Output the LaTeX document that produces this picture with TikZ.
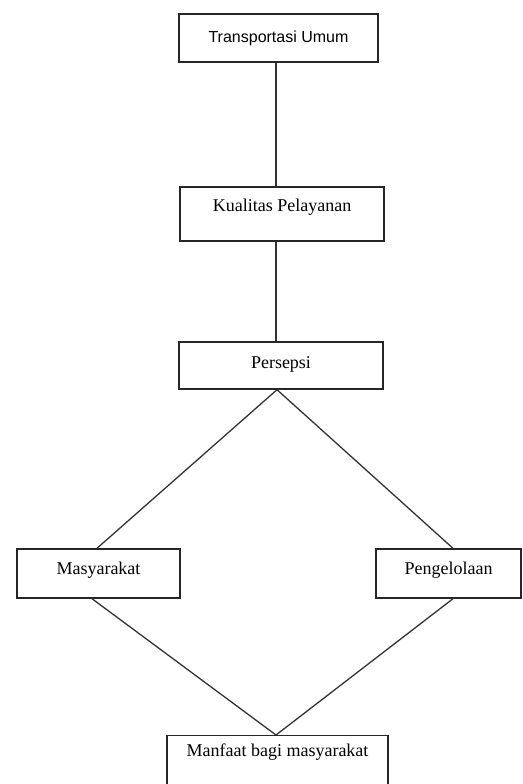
\documentclass[tikz,border=0pt]{standalone}
\usepackage{fontspec}
\setmainfont{Liberation Serif}
\newfontfamily\arialfont{Liberation Sans}
\begin{document}
\begin{tikzpicture}[x=1pt,y=-1pt,
  box/.style={draw=black!85,line width=1.4pt,rectangle,inner sep=0pt,font=\fontsize{18}{20}\selectfont},
  conn/.style={draw=black!80,line width=1.3pt}]
\useasboundingbox (0,0) rectangle (522,784);
\clip (0,0) rectangle (522,784);
\fill[white] (0,0) rectangle (522,784);
\node[box,minimum width=199pt,minimum height=48pt,font=\arialfont\fontsize{16}{18}\selectfont] (t) at (278.5,38) {\raisebox{2pt}{Transportasi Umum}};
\node[box,minimum width=204pt,minimum height=54pt] (k) at (282,214) {\raisebox{18pt}{Kualitas Pelayanan}};
\node[box,minimum width=204pt,minimum height=47pt] (p) at (281,365.5) {\raisebox{6pt}{Persepsi}};
\node[box,minimum width=163pt,minimum height=49pt] (m) at (98.5,573.5) {\raisebox{11pt}{Masyarakat}};
\node[box,minimum width=145pt,minimum height=49pt] (g) at (448.5,573.5) {\raisebox{11pt}{Pengelolaan}};
\node[box,minimum width=221pt,minimum height=66pt,anchor=north] (f) at (277.5,735) {\raisebox{38pt}{Manfaat bagi masyarakat}};
\draw[conn] (t.south -| 276,0) -- (k.north -| 276,0);
\draw[conn] (k.south -| 276,0) -- (p.north -| 276,0);
\coordinate (apex) at (p.south -| 277,0);
\draw[conn] (apex) -- (m.north -| 97,0);
\draw[conn] (apex) -- (g.north -| 453,0);
\coordinate (base) at (f.north -| 276,0);
\draw[conn] (m.south -| 92,0) -- (base);
\draw[conn] (g.south -| 453,0) -- (base);
\end{tikzpicture}
\end{document}
